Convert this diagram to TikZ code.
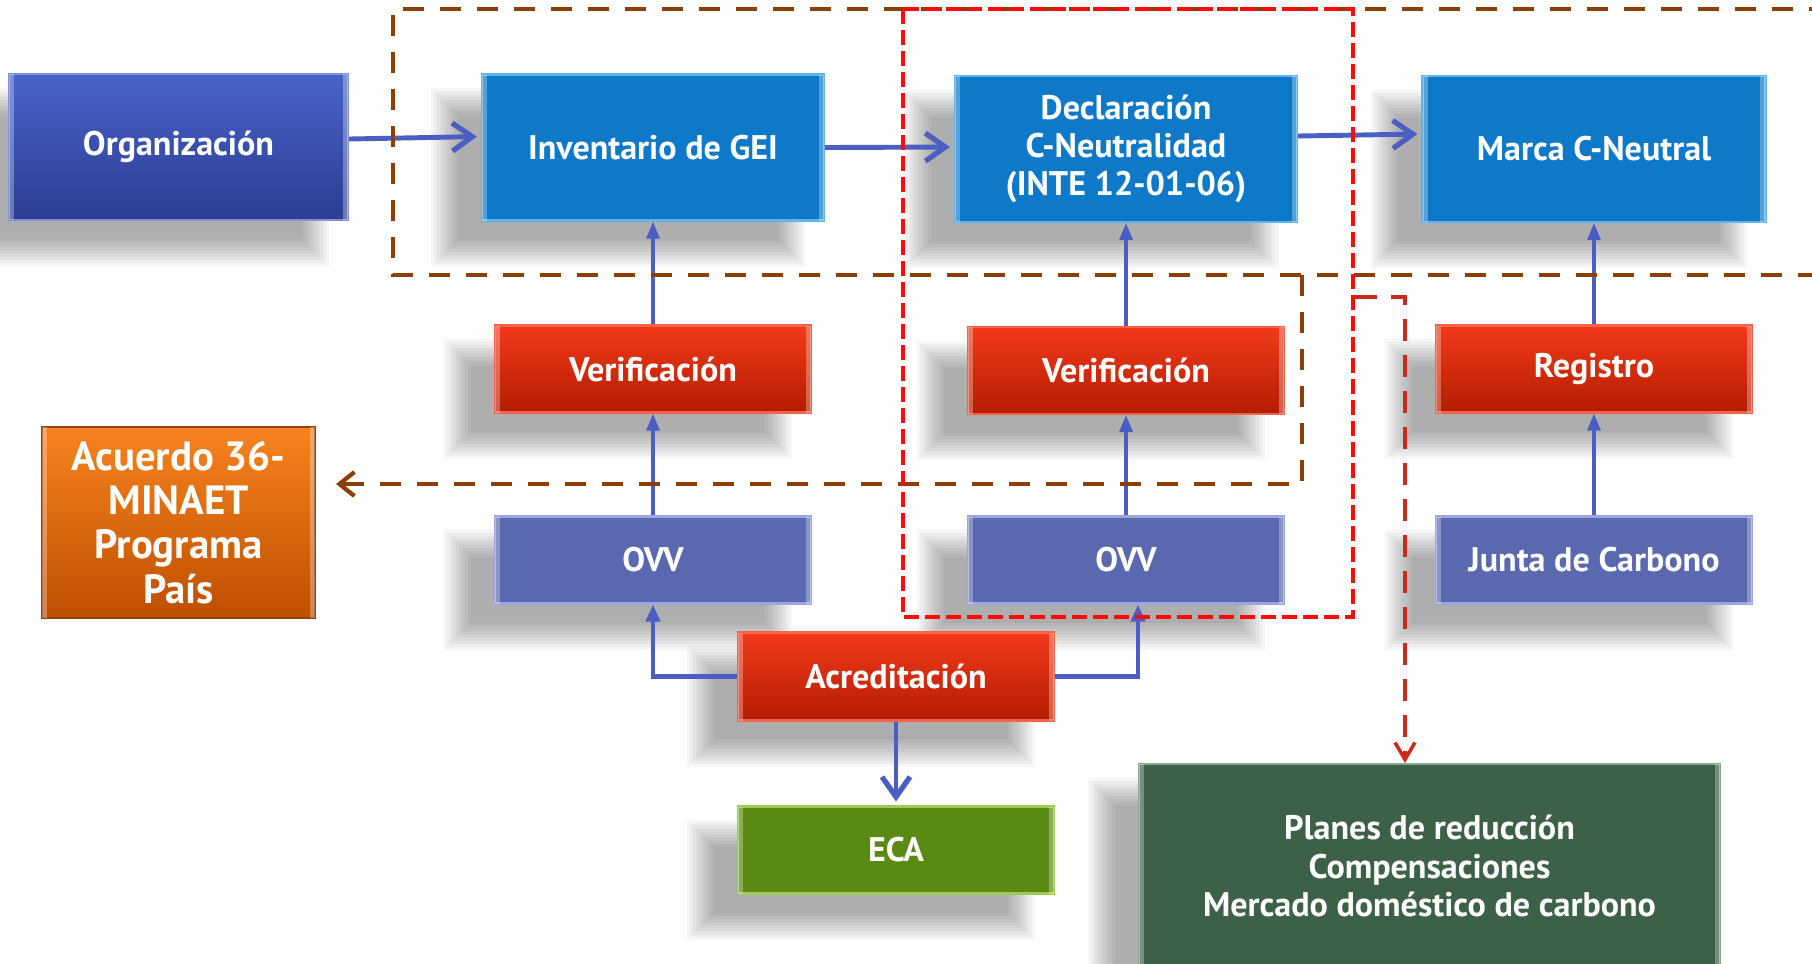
\documentclass[tikz,border=0pt]{standalone}
\usepackage{fontspec}
\setmainfont{PT Sans}
\usepackage{tikz}
\usetikzlibrary{arrows.meta,positioning,backgrounds}

\definecolor{orgtop}{HTML}{4762C9}
\definecolor{orgbot}{HTML}{2C3D92}
\definecolor{geiblue}{HTML}{0E78C9}
\definecolor{geiedge}{HTML}{5DB4EE}
\definecolor{vertop}{HTML}{F2391B}
\definecolor{verbot}{HTML}{B41D00}
\definecolor{ovvblue}{HTML}{5A69AF}
\definecolor{ovvedge}{HTML}{98A6E2}
\definecolor{acutop}{HTML}{F7831F}
\definecolor{acubot}{HTML}{BE4F00}
\definecolor{ecagreen}{HTML}{5A8A14}
\definecolor{ecaedge}{HTML}{9CCB50}
\definecolor{plangreen}{HTML}{3D6147}
\definecolor{planedge}{HTML}{86A890}
\definecolor{linkblue}{HTML}{4B5EC4}
\definecolor{framebrown}{HTML}{8E3F00}
\definecolor{framered}{HTML}{FF0A0A}
\definecolor{linkred}{HTML}{C92A1C}

\tikzset{
  box/.style={rectangle, inner sep=0pt, align=center, text=white,
    font=\fontsize{9.7}{10.9}\selectfont\bfseries,
    minimum width=3.16cm, minimum height=0.87cm, line width=0.6pt,
    postaction={path picture={
      \fill[white,opacity=0.3] (path picture bounding box.south west) rectangle ([xshift=1.5pt]path picture bounding box.north west);
      \fill[white,opacity=0.3] (path picture bounding box.south east) rectangle ([xshift=-1.5pt]path picture bounding box.north east);}}},
  orgbox/.style={box, top color=orgtop, bottom color=orgbot, draw=orgtop!70!white, minimum width=3.39cm, minimum height=1.46cm},
  geibox/.style={box, fill=geiblue, draw=geiedge, minimum width=3.42cm, minimum height=1.46cm},
  redbox/.style={box, top color=vertop, bottom color=verbot, draw=vertop!80!white},
  ovvbox/.style={box, fill=ovvblue, draw=ovvedge},
  acubox/.style={box, top color=acutop, bottom color=acubot, draw=acubot!80!black, minimum width=2.73cm, minimum height=1.91cm, font=\fontsize{11.6}{12.6}\selectfont\bfseries},
  ecabox/.style={box, fill=ecagreen, draw=ecaedge},
  planbox/.style={box, fill=plangreen, draw=planedge, minimum width=5.81cm, minimum height=2.04cm},
  bigarrow/.style={color=linkblue, line width=1.4pt, shorten >=0.04cm, -{Straight Barb[length=0.2cm,width=0.28cm,line width=1.5pt]}},
  linkarrow/.style={color=linkblue, line width=0.9pt, -{Triangle[length=0.17cm,width=0.13cm]}},
  elbowarrow/.style={draw=linkblue, line width=1.2pt, -{Triangle[length=0.17cm,width=0.14cm]}},
  browndash/.style={draw=framebrown, line width=1.25pt, dash pattern=on 0.21cm off 0.16cm},
  reddash/.style={draw=framered, line width=1.4pt, dash pattern=on 0.15cm off 0.06cm},
  reddash2/.style={draw=linkred, line width=1pt, dash pattern=on 0.22cm off 0.14cm}
}

\begin{document}
\begin{tikzpicture}
\useasboundingbox (0,0) rectangle (18.12,-9.63);
% top row
\node[orgbox] (org) at (1.785,-1.47) {Organización};
\node[geibox] (inv) at (6.53,-1.475) {Inventario de GEI};
\node[geibox] (decl) at (11.26,-1.49) {Declaración\\C-Neutralidad\\(INTE 12-01-06)};
\node[geibox, minimum width=3.43cm] (marca) at (15.94,-1.49) {Marca C-Neutral};
% middle rows
\node[redbox] (verif1) at (6.53,-3.69) {Verificación};
\node[redbox] (verif2) at (11.26,-3.705) {Verificación};
\node[redbox] (reg) at (15.94,-3.69) {Registro};
\node[acubox] (acuerdo) at (1.785,-5.225) {Acuerdo 36-\\MINAET\\Programa\\País};
\node[ovvbox] (ovv1) at (6.53,-5.6) {OVV};
\node[ovvbox] (ovv2) at (11.26,-5.6) {OVV};
\node[ovvbox] (junta) at (15.94,-5.6) {Junta de Carbono};
% bottom
\node[redbox, minimum height=0.88cm] (acred) at (8.96,-6.765) {Acreditación};
\node[ecabox] (eca) at (8.96,-8.5) {ECA};
\node[planbox] (planes) at (14.295,-8.66) {Planes de reducción\\Compensaciones\\Mercado doméstico de carbono};

% soft shadows
\begin{scope}[on background layer]
\fill[white] (0,0) rectangle (18.12,-9.63);
\foreach \n in {org,inv,decl,marca,verif1,verif2,reg,ovv1,ovv2,junta,acred,eca,planes}
  \foreach \k in {0,...,9}
    \fill[black, opacity=0.034]
      ([shift={(-0.5cm+\k*0.03cm,-0.45cm+\k*0.03cm)}]\n.south west) rectangle
      ([shift={(-0.2cm-\k*0.03cm,-0.15cm-\k*0.03cm)}]\n.north east);
\end{scope}

\path[bigarrow]
  ([yshift=0.08cm]org.east) edge ([yshift=0.11cm]inv.west)
  (inv.east) edge ([yshift=0.02cm]decl.west)
  ([yshift=0.13cm]decl.east) edge ([yshift=0.15cm]marca.west)
  (acred) edge (eca);
% vert linkages
\path[linkarrow]
  (verif1) edge (inv)
  (ovv1) edge (verif1)
  (verif2) edge (decl)
  (ovv2) edge (verif2)
  (reg) edge (marca)
  (junta) edge (reg);
\draw[elbowarrow] (acred.west) -| (ovv1.south);
\draw[elbowarrow] (acred.east) -| ([xshift=0.12cm]ovv2.south);

% frames
\draw[browndash] (18.3,-0.09) -- (3.93,-0.09) -- (3.93,-2.75) -- (18.3,-2.75);
\draw[browndash, -{Straight Barb[length=0.15cm,width=0.24cm,line width=1.2pt]}]
  (13.02,-2.75) |- ([xshift=0.2cm,yshift=0.385cm]acuerdo.east);
\draw[reddash] (9.03,-0.09) rectangle (13.53,-6.17);
\coordinate (redout) at (13.55,-2.97);
\draw[reddash2, -{Straight Barb[length=0.17cm,width=0.2cm,line width=1pt]}]
  (redout) -| ([xshift=-0.245cm]planes.north);
\end{tikzpicture}
\end{document}
